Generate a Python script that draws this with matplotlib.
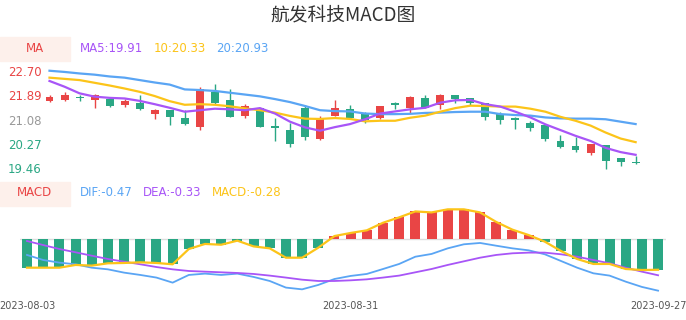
import matplotlib
matplotlib.use("Agg")
import matplotlib.pyplot as plt
import pandas as pd

plt.rcParams['font.family'] = ['DejaVu Sans', 'Noto Sans CJK SC']

# ---- data ----
dates = [d.strftime('%Y-%m-%d') for d in pd.bdate_range('2023-08-03', '2023-09-27')]

opens = [21.69, 21.74, 21.84, 21.73, 21.76, 21.56, 21.64, 21.25, 21.39, 21.12,
         20.84, 21.98, 21.73, 21.20, 21.47, 20.86, 20.73, 21.48, 20.42, 21.20,
         21.42, 21.25, 21.14, 21.62, 21.47, 21.79, 21.57, 21.88, 21.79, 21.62,
         21.28, 21.12, 20.97, 20.90, 20.37, 20.20, 19.96, 20.23, 19.79, 19.66]
closes = [21.83, 21.88, 21.78, 21.91, 21.53, 21.69, 21.43, 21.39, 21.18, 20.92,
          22.08, 21.62, 21.18, 21.54, 20.84, 20.81, 20.27, 20.50, 21.09, 21.45,
          21.14, 21.06, 21.53, 21.55, 21.83, 21.48, 21.88, 21.77, 21.62, 21.17,
          21.06, 21.07, 20.81, 20.42, 20.16, 20.07, 20.26, 19.70, 19.68, 19.63]
highs = [21.91, 21.98, 21.91, 21.92, 21.78, 21.75, 21.89, 21.42, 21.40, 21.39,
         22.15, 22.26, 22.08, 21.58, 21.48, 21.13, 20.95, 21.57, 21.20, 21.73,
         21.56, 21.33, 21.54, 21.66, 21.86, 21.88, 21.93, 21.89, 21.80, 21.63,
         21.34, 21.17, 21.03, 20.91, 20.57, 20.51, 20.27, 20.24, 19.80, 19.88]
lows = [21.67, 21.69, 21.70, 21.45, 21.51, 21.51, 21.41, 21.09, 20.91, 20.91,
        20.73, 21.59, 21.17, 21.12, 20.83, 20.38, 20.16, 20.40, 20.41, 21.19,
        21.09, 20.97, 21.10, 21.44, 21.31, 21.47, 21.42, 21.64, 21.56, 21.05,
        20.94, 20.76, 20.71, 20.37, 20.15, 19.99, 19.91, 19.43, 19.54, 19.59]

ma5 = [22.36, 22.17, 21.95, 21.84, 21.80, 21.78, 21.70, 21.59, 21.47, 21.34,
       21.39, 21.44, 21.42, 21.39, 21.46, 21.28, 21.01, 20.82, 20.71, 20.83,
       20.93, 21.09, 21.28, 21.35, 21.42, 21.47, 21.64, 21.72, 21.73, 21.59,
       21.51, 21.34, 21.15, 20.92, 20.73, 20.54, 20.37, 20.14, 20.00, 19.91]
ma10 = [22.47, 22.43, 22.39, 22.30, 22.21, 22.11, 22.00, 21.86, 21.69, 21.57,
        21.59, 21.57, 21.52, 21.45, 21.39, 21.31, 21.20, 21.11, 21.10, 21.13,
        21.10, 21.02, 21.04, 21.04, 21.14, 21.21, 21.34, 21.46, 21.54, 21.53,
        21.51, 21.51, 21.44, 21.34, 21.17, 21.04, 20.88, 20.65, 20.45, 20.33]
ma20 = [22.70, 22.66, 22.61, 22.57, 22.51, 22.47, 22.39, 22.31, 22.24, 22.08,
        22.06, 22.03, 21.97, 21.91, 21.85, 21.76, 21.66, 21.53, 21.39, 21.36,
        21.35, 21.28, 21.26, 21.26, 21.27, 21.30, 21.31, 21.33, 21.34, 21.34,
        21.26, 21.23, 21.21, 21.15, 21.12, 21.11, 21.11, 21.09, 21.01, 20.93]

dif = [-0.145, -0.191, -0.215, -0.230, -0.261, -0.276, -0.306, -0.327, -0.351, -0.397,
       -0.327, -0.315, -0.327, -0.315, -0.345, -0.382, -0.442, -0.458, -0.418, -0.364,
       -0.336, -0.318, -0.273, -0.227, -0.161, -0.136, -0.085, -0.048, -0.036, -0.061,
       -0.085, -0.103, -0.139, -0.200, -0.261, -0.312, -0.333, -0.388, -0.436, -0.47]
dea = [-0.018, -0.055, -0.091, -0.121, -0.152, -0.182, -0.206, -0.230, -0.255, -0.276,
       -0.291, -0.297, -0.303, -0.309, -0.318, -0.333, -0.351, -0.370, -0.382, -0.382,
       -0.376, -0.367, -0.351, -0.333, -0.303, -0.273, -0.236, -0.203, -0.170, -0.145,
       -0.130, -0.124, -0.124, -0.139, -0.161, -0.191, -0.221, -0.261, -0.297, -0.33]
macd = [-0.261, -0.261, -0.261, -0.236, -0.242, -0.221, -0.218, -0.212, -0.218, -0.230,
        -0.091, -0.045, -0.052, -0.015, -0.067, -0.085, -0.170, -0.170, -0.079, 0.027,
        0.055, 0.079, 0.148, 0.197, 0.251, 0.242, 0.270, 0.270, 0.242, 0.155,
        0.085, 0.036, -0.024, -0.109, -0.182, -0.227, -0.227, -0.273, -0.282, -0.28]

price_ticks = [22.70, 21.89, 21.08, 20.27, 19.46]
date_ticks = [0, 20, 39]

RED = '#e94545'
GREEN = '#2aa784'
PURPLE = '#a855f7'
YELLOW = '#fcc419'
BLUE = '#5aa5f4'
BOX = '#fdf0eb'

W, H = 686, 320
fig = plt.figure(figsize=(W / 100, H / 100), dpi=100)


def px_axes(x0, y0, x1, y1):
    # axes from pixel box (top-left origin)
    return fig.add_axes([x0 / W, 1 - y1 / H, (x1 - x0) / W, (y1 - y0) / H])


fig.text(343 / W, 1 - 15 / H, '航发科技MACD图', ha='center', va='center',
         fontsize=13.5, color='#333333', family=['Noto Sans CJK SC', 'DejaVu Sans'])

# ---- candlestick panel ----
ax = px_axes(44, 62, 646, 175)
n = len(closes)
xs = list(range(n))
for i in xs:
    c = RED if closes[i] >= opens[i] else GREEN
    ax.vlines(i, lows[i], highs[i], color=c, linewidth=1)
    lo, hi = min(opens[i], closes[i]), max(opens[i], closes[i])
    ax.bar(i, max(hi - lo, 0.02), bottom=lo, width=0.53, color=c, linewidth=0)
ax.plot(xs, ma20, color=BLUE, lw=1.6)
ax.plot(xs, ma10, color=YELLOW, lw=1.6)
ax.plot(xs, ma5, color=PURPLE, lw=1.6)
ax.set_xlim(-0.366, 39.69)
ax.set_ylim(19.24, 22.99)
ax.set_xticks([])
ax.set_yticks(price_ticks)
ax.set_yticklabels(['%.2f' % v for v in price_ticks], fontsize=8.5)
tick_cols = [RED, RED, '#999999', GREEN, GREEN]
for lab, col in zip(ax.get_yticklabels(), tick_cols):
    lab.set_color(col)
ax.tick_params(axis='y', length=0, pad=1.5)
for s in ax.spines.values():
    s.set_visible(False)
ax.patch.set_alpha(0)

# MA header
fig.patches.append(plt.Rectangle((0, 1 - 61 / H), 70 / W, 24 / H, transform=fig.transFigure,
                                 color=BOX, zorder=0))
fig.text(35 / W, 1 - 49 / H, 'MA', ha='center', va='center', fontsize=8.5, color=RED)
fig.text(80 / W, 1 - 49 / H, 'MA5:%.2f' % ma5[-1], va='center', fontsize=8.5, color=PURPLE)
fig.text(154 / W, 1 - 49 / H, '10:%.2f' % ma10[-1], va='center', fontsize=8.5, color=YELLOW)
fig.text(216 / W, 1 - 49 / H, '20:%.2f' % ma20[-1], va='center', fontsize=8.5, color=BLUE)

# ---- MACD panel ----
ax2 = px_axes(20, 200, 666, 300)
cols = [RED if v >= 0 else GREEN for v in macd]
ax2.bar(xs, macd, width=0.62, color=cols, linewidth=0)
ax2.axhline(0, color='#dddddd', lw=1, zorder=0)
ax2.plot(xs, dif, color=BLUE, lw=1.3)
ax2.plot(xs, dea, color=PURPLE, lw=1.3)
ax2.plot(xs, macd, color=YELLOW, lw=1.6)
ax2.set_xlim(-0.433, 39.49)
ax2.set_ylim(-0.555, 0.355)
ax2.set_yticks([])
ax2.set_xticks(date_ticks)
ax2.set_xticklabels([dates[i] for i in date_ticks], fontsize=7, color='#555555')
ax2.tick_params(axis='x', length=0, pad=1)
for s in ax2.spines.values():
    s.set_visible(False)
ax2.patch.set_alpha(0)

fig.patches.append(plt.Rectangle((0, 1 - 206 / H), 70 / W, 24 / H, transform=fig.transFigure,
                                 color=BOX, zorder=0))
fig.text(35 / W, 1 - 193 / H, 'MACD', ha='center', va='center', fontsize=8.5, color=RED)
fig.text(80 / W, 1 - 193 / H, 'DIF:%.2f' % dif[-1], va='center', fontsize=8.5, color=BLUE)
fig.text(143 / W, 1 - 193 / H, 'DEA:%.2f' % dea[-1], va='center', fontsize=8.5, color=PURPLE)
fig.text(212 / W, 1 - 193 / H, 'MACD:%.2f' % macd[-1], va='center', fontsize=8.5, color=YELLOW)

fig.savefig('out.png', dpi=100)
